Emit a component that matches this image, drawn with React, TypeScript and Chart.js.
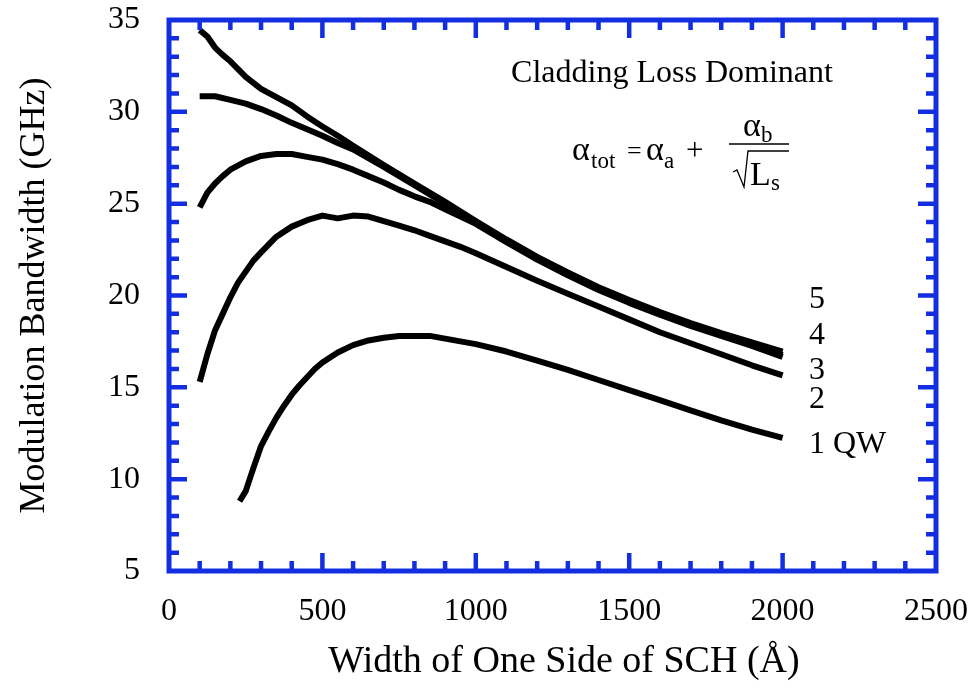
import React, { useEffect, useRef } from "react";
import { Chart, registerables } from "chart.js";

Chart.register(...registerables);

// Modulation bandwidth (GHz) versus one-side SCH width (Å), for 1–5 quantum wells.
const widthsQW5 = [100, 125, 150, 175, 200, 250, 300, 350, 400, 450, 500, 550, 600, 700, 800, 900, 1000, 1100, 1200, 1300, 1400, 1500, 1600, 1700, 1800, 1900, 2000];
const bandwidthQW5 = [34.45, 34.1, 33.5, 33.1, 32.75, 31.9, 31.25, 30.8, 30.35, 29.75, 29.2, 28.7, 28.15, 27.1, 26.1, 25.1, 24.05, 23.05, 22.1, 21.25, 20.45, 19.75, 19.1, 18.5, 17.95, 17.45, 16.95];

const widthsQW4 = [100, 150, 200, 250, 300, 350, 400, 450, 500, 550, 600, 700, 800, 900, 1000, 1100, 1200, 1300, 1400, 1500, 1600, 1700, 1800, 1900, 2000];
const bandwidthQW4 = [30.85, 30.85, 30.65, 30.45, 30.15, 29.8, 29.4, 29.05, 28.7, 28.3, 27.95, 27.0, 26.0, 25.0, 23.95, 22.95, 22.0, 21.15, 20.35, 19.65, 19.0, 18.4, 17.85, 17.3, 16.75];

const widthsQW3 = [100, 125, 150, 175, 200, 250, 300, 350, 400, 450, 500, 550, 600, 650, 700, 750, 800, 850, 900, 950, 1000, 1100, 1200, 1300, 1400, 1500, 1600, 1700, 1800, 1900, 2000];
const bandwidthQW3 = [24.8, 25.6, 26.1, 26.5, 26.85, 27.3, 27.6, 27.7, 27.7, 27.55, 27.4, 27.15, 26.85, 26.5, 26.15, 25.75, 25.4, 25.1, 24.7, 24.3, 23.9, 22.9, 21.95, 21.1, 20.3, 19.6, 18.95, 18.35, 17.8, 17.25, 16.65];

const widthsQW2 = [100, 125, 150, 175, 200, 225, 250, 275, 300, 350, 400, 450, 500, 550, 600, 650, 700, 750, 800, 850, 900, 950, 1000, 1100, 1200, 1300, 1400, 1500, 1600, 1700, 1800, 1900, 2000];
const bandwidthQW2 = [15.3, 16.8, 18.1, 19.0, 19.9, 20.7, 21.3, 21.9, 22.35, 23.2, 23.75, 24.1, 24.35, 24.2, 24.35, 24.3, 24.05, 23.8, 23.55, 23.25, 22.95, 22.65, 22.3, 21.55, 20.8, 20.1, 19.4, 18.7, 18.0, 17.4, 16.8, 16.2, 15.65];

const widthsQW1 = [230, 250, 275, 300, 325, 350, 375, 400, 425, 450, 475, 500, 550, 600, 650, 700, 750, 800, 850, 900, 950, 1000, 1100, 1200, 1300, 1400, 1500, 1600, 1700, 1800, 1900, 2000];
const bandwidthQW1 = [8.8, 9.35, 10.6, 11.8, 12.6, 13.35, 14.0, 14.6, 15.1, 15.55, 16.0, 16.35, 16.9, 17.3, 17.55, 17.7, 17.8, 17.8, 17.8, 17.65, 17.5, 17.35, 16.95, 16.45, 15.95, 15.4, 14.85, 14.3, 13.75, 13.2, 12.7, 12.25];

const curveLabels = ["5", "4", "3", "2", "1 QW"];
const curveLabelValues = [19.75, 17.8, 15.9, 14.35, 11.9];

const xTitle = "Width of One Side of SCH (Å)";
const yTitle = "Modulation Bandwidth (GHz)";

const xMin = 0;
const xMax = 2500;
const yMin = 5;
const yMax = 35;

const SERIF = "'Liberation Serif', 'Times New Roman', serif";
const FRAME_BLUE = "rgb(18, 46, 224)";

const toPoints = (xs: number[], ys: number[]) => xs.map((x, i) => ({ x, y: ys[i] }));

const clearScalePadding = (scale: any) => {
  scale.paddingTop = 0;
  scale.paddingBottom = 0;
  scale.paddingLeft = 0;
  scale.paddingRight = 0;
};

const framePlugin = {
  id: "blueFrame",
  afterDatasetsDraw(chart: any) {
    const { ctx, chartArea: a, scales } = chart;
    const xs = scales.x;
    const ys = scales.y;
    ctx.save();
    ctx.strokeStyle = FRAME_BLUE;
    ctx.lineCap = "butt";
    ctx.lineWidth = 4.5;
    // inward ticks on all four sides
    for (let v = xMin + 100; v < xMax; v += 100) {
      const px = xs.getPixelForValue(v);
      const len = v % 500 === 0 ? 18 : 10;
      ctx.beginPath();
      ctx.moveTo(px, a.bottom);
      ctx.lineTo(px, a.bottom - len);
      ctx.moveTo(px, a.top);
      ctx.lineTo(px, a.top + len);
      ctx.stroke();
    }
    for (let v = yMin + 1; v < yMax; v += 1) {
      const py = ys.getPixelForValue(v);
      const len = v % 5 === 0 ? 18 : 10;
      ctx.beginPath();
      ctx.moveTo(a.left, py);
      ctx.lineTo(a.left + len, py);
      ctx.moveTo(a.right, py);
      ctx.lineTo(a.right - len, py);
      ctx.stroke();
    }
    ctx.lineWidth = 5;
    ctx.strokeRect(a.left, a.top, a.right - a.left, a.bottom - a.top);
    ctx.restore();
  },
  afterDraw(chart: any) {
    const { ctx, scales } = chart;
    const ys = scales.y;
    ctx.save();
    ctx.fillStyle = "#000";
    ctx.textBaseline = "alphabetic";

    // x-axis title
    ctx.font = `38px ${SERIF}`;
    ctx.textAlign = "center";
    ctx.fillText(xTitle, 564, 672);

    // heading
    ctx.font = `32px ${SERIF}`;
    ctx.fillText("Cladding Loss Dominant", 672, 82);

    // loss formula
    ctx.textAlign = "left";
    const big = `34px ${SERIF}`;
    const small = `23px ${SERIF}`;
    ctx.font = big;
    ctx.fillText("α", 572, 160);
    ctx.font = small;
    ctx.fillText("tot", 591, 168);
    ctx.font = `26px ${SERIF}`;
    ctx.fillText("=", 627, 159);
    ctx.font = big;
    ctx.fillText("α", 646, 160);
    ctx.font = small;
    ctx.fillText("a", 664, 168);
    ctx.font = `31px ${SERIF}`;
    ctx.fillText("+", 686, 160);
    ctx.font = big;
    ctx.fillText("α", 743, 136);
    ctx.font = small;
    ctx.fillText("b", 761, 142);
    ctx.font = big;
    ctx.fillText("L", 750, 185);
    ctx.font = small;
    ctx.fillText("s", 771, 190);
    ctx.strokeStyle = "#000";
    ctx.lineWidth = 1.5;
    ctx.beginPath();
    ctx.moveTo(729, 144);
    ctx.lineTo(789, 144);
    ctx.stroke();
    ctx.lineWidth = 1.3;
    ctx.beginPath();
    ctx.moveTo(733, 172);
    ctx.lineTo(737, 170);
    ctx.lineTo(744, 187);
    ctx.lineTo(748, 151);
    ctx.lineTo(789, 151);
    ctx.stroke();

    // curve labels at the right end
    ctx.font = `32px ${SERIF}`;
    ctx.textBaseline = "middle";
    curveLabels.forEach((t, i) => {
      ctx.fillText(t, 809, ys.getPixelForValue(curveLabelValues[i]));
    });
    ctx.restore();
  },
};

const series = [
  { label: "5 QW", xs: widthsQW5, ys: bandwidthQW5 },
  { label: "4 QW", xs: widthsQW4, ys: bandwidthQW4 },
  { label: "3 QW", xs: widthsQW3, ys: bandwidthQW3 },
  { label: "2 QW", xs: widthsQW2, ys: bandwidthQW2 },
  { label: "1 QW", xs: widthsQW1, ys: bandwidthQW1 },
];

export default function App() {
  const canvasRef = useRef<HTMLCanvasElement | null>(null);

  useEffect(() => {
    document.body.style.margin = "0";
    document.body.style.overflow = "hidden";
    const canvas = canvasRef.current;
    if (!canvas) return;
    const chart = new Chart(canvas, {
      type: "line",
      data: {
        datasets: series.map((s) => ({
          label: s.label,
          data: toPoints(s.xs, s.ys),
          borderColor: "#000",
          borderWidth: 6,
          pointRadius: 0,
          tension: 0,
          fill: false,
          borderJoinStyle: "round" as const,
          borderCapStyle: "butt" as const,
        })),
      },
      options: {
        responsive: false,
        animation: false,
        devicePixelRatio: 1,
        layout: { padding: { top: 20, right: 33, left: 0, bottom: 0 } },
        plugins: { legend: { display: false }, tooltip: { enabled: false } },
        scales: {
          x: {
            type: "linear",
            min: xMin,
            max: xMax,
            grid: { display: false, drawTicks: false },
            border: { display: false },
            ticks: {
              stepSize: 500,
              padding: 21,
              color: "#000",
              font: { family: SERIF, size: 32 },
              maxRotation: 0,
              callback: (v: any) => String(v),
            },
            afterFit: (scale: any) => {
              scale.height = 117;
              clearScalePadding(scale);
            },
          },
          y: {
            type: "linear",
            min: yMin,
            max: yMax,
            grid: { display: false, drawTicks: false },
            border: { display: false },
            ticks: {
              stepSize: 5,
              padding: 29,
              color: "#000",
              font: { family: SERIF, size: 32 },
              callback: (v: any) => String(v),
            },
            title: {
              display: true,
              text: yTitle,
              color: "#000",
              font: { family: SERIF, size: 36 },
              padding: { top: 13, bottom: 0 },
            },
            afterFit: (scale: any) => {
              scale.width = 169;
              clearScalePadding(scale);
            },
          },
        },
      },
      plugins: [framePlugin],
    });
    return () => chart.destroy();
  }, []);

  return (
    <div style={{ width: 969, height: 688 }}>
      <canvas ref={canvasRef} width={969} height={688} style={{ display: "block" }} />
    </div>
  );
}
